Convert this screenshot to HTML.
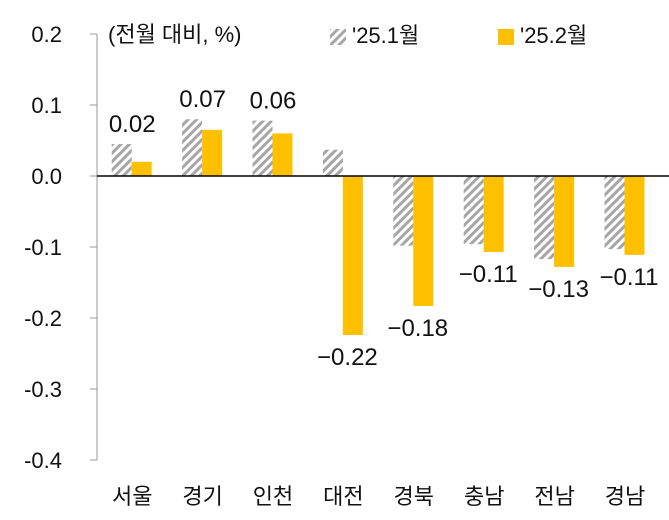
<!DOCTYPE html>
<html><head><meta charset="utf-8"><style>
body{margin:0;background:#fff;width:669px;height:515px;overflow:hidden}
svg text{font-family:"Liberation Sans","Noto Sans CJK KR",sans-serif;fill:#111}
</style></head><body>
<svg id="c" width="669" height="515">
<defs><pattern id="hatch" patternUnits="userSpaceOnUse" width="6" height="6" patternTransform="rotate(45)">
<rect width="6" height="6" fill="#fff"/><rect width="3" height="6" fill="#a6a6a6"/></pattern></defs>
</svg>
<script>
const categories=["서울","경기","인천","대전","경북","충남","전남","경남"];
const jan=[0.045,0.08,0.078,0.037,-0.098,-0.096,-0.117,-0.103];
const feb=[0.02,0.065,0.06,-0.224,-0.183,-0.107,-0.128,-0.111];
const febLabels=["0.02","0.07","0.06","−0.22","−0.18","−0.11","−0.13","−0.11"];
const ticks=[0.2,0.1,0.0,-0.1,-0.2,-0.3,-0.4];
const tickLabels=["0.2","0.1","0.0","-0.1","-0.2","-0.3","-0.4"];
const svg=document.getElementById('c');const NS="http://www.w3.org/2000/svg";
const y=v=>176-v*710;const x0=97,step=70.4;const cx=i=>x0+step*(i+0.5);
function mk(t,a,p){const e=document.createElementNS(NS,t);for(const k in a)e.setAttribute(k,a[k]);(p||svg).appendChild(e);return e;}
let ax=mk('line',{x1:x0,y1:y(0.2),x2:x0,y2:y(-0.4),stroke:'#999','stroke-width':1});


ticks.forEach((t,i)=>{let l=mk('line',{x1:x0-7,y1:y(t),x2:x0,y2:y(t),stroke:'#999'});


let tx=mk('text',{x:x0-36,y:y(t)+8,'text-anchor':'end','font-size':22});tx.textContent=tickLabels[i];
tx.setAttribute('x',x0-35);tx.setAttribute('text-anchor','end');

});
categories.forEach((c,i)=>{
 const a=jan[i],b=feb[i];
 let r1=mk('rect',{x:cx(i)-20.5,y:Math.min(y(a),y(0)),width:20,height:Math.abs(y(a)-y(0)),fill:'url(#hatch)'});
 
 
 let r2=mk('rect',{x:cx(i)-0.5,y:Math.min(y(b),y(0)),width:20,height:Math.abs(y(b)-y(0)),fill:'#ffc000'});
 
 
 let top=b>=0?Math.min(y(a),y(b))-12:y(b)+30;
 let lx=cx(i)-(b>=0?0:-4);
 let t=mk('text',{x:lx,y:top,'text-anchor':'middle','font-size':24});t.textContent=febLabels[i];
 
 
 let ct=mk('text',{x:cx(i),y:504,'text-anchor':'middle','font-size':22});ct.textContent=c;
 
 
});
let zl=mk('line',{x1:x0,y1:y(0),x2:669,y2:y(0),stroke:'#000','stroke-width':1.5});


let u=mk('text',{x:108,y:42,'font-size':22});u.textContent="(전월 대비, %)";


let g1=mk('rect',{x:330,y:29,width:16,height:16,fill:'url(#hatch)'});


let l1=mk('text',{x:352,y:43,'font-size':22});l1.textContent="'25.1월";


let g2=mk('rect',{x:498,y:29,width:16,height:16,fill:'#ffc000'});


let l2=mk('text',{x:520,y:43,'font-size':22});l2.textContent="'25.2월";


</script>
</body></html>
